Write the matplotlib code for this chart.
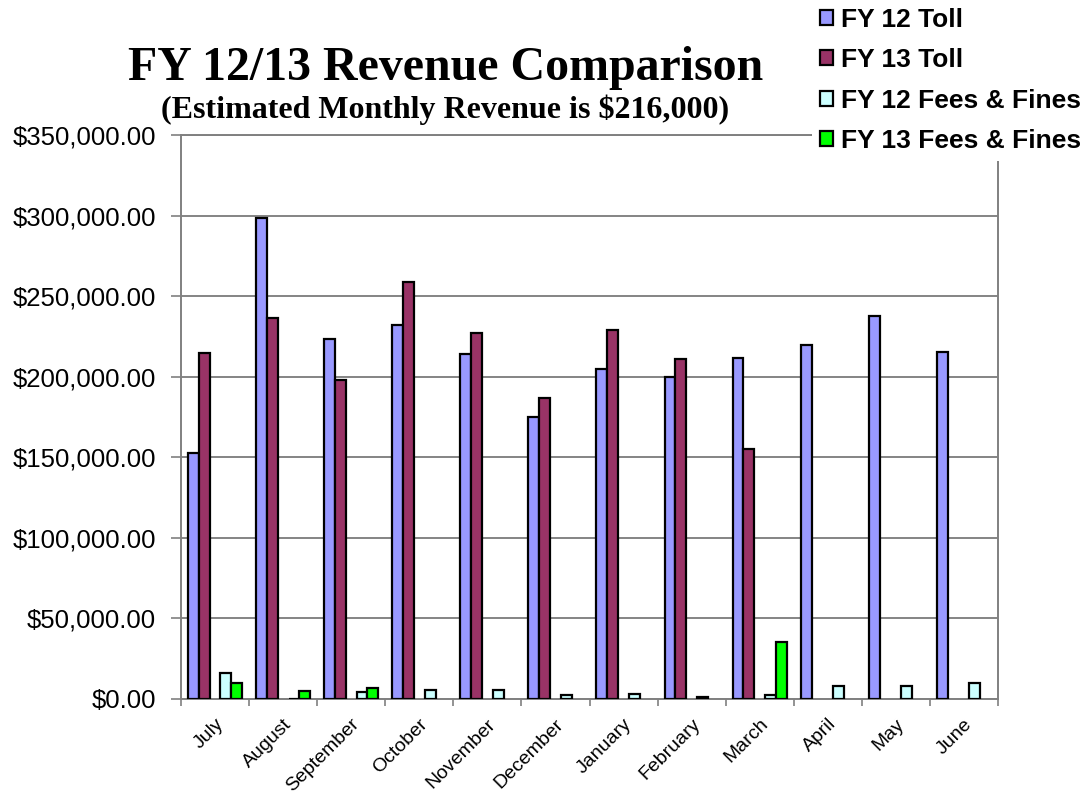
import numpy as np
import matplotlib
matplotlib.use("Agg")
import matplotlib.pyplot as plt
from matplotlib.patches import Patch
from matplotlib.ticker import FuncFormatter, MultipleLocator

# =====================
# Data
# =====================

months = ["July", "August", "September", "October", "November", "December",
          "January", "February", "March", "April", "May", "June"]

fy12_toll = [152600, 298300, 223400, 232100, 213900, 174800,
             205000, 200000, 211800, 219700, 237900, 215100]
fy13_toll = [214500, 236200, 198000, 258600, 227300, 186600,
             229000, 210800, 155100, np.nan, np.nan, np.nan]
fy12_fees = [15900, 300, 4500, 5600, 5600, 2500,
             2900, 1500, 2500, 8100, 8100, 9700]
fy13_fees = [9700, 5000, 6800, np.nan, np.nan, np.nan,
             np.nan, np.nan, 35500, np.nan, np.nan, np.nan]

series_names = ["FY 12 Toll", "FY 13 Toll", "FY 12 Fees & Fines", "FY 13 Fees & Fines"]
series_colors = ["#9999FF", "#993366", "#CCFFFF", "#00FF00"]

# =====================
# Plot
# =====================

fig = plt.figure(figsize=(10.83, 7.96), dpi=100)
ax = fig.add_axes([181 / 1083, 1 - 699 / 796, (998 - 181) / 1083, (699 - 135) / 796])

x = np.arange(len(months))
w = 0.159
slots = [-2, -1, 1, 2]  # middle slot is empty in the original
for vals, s, c in zip([fy12_toll, fy13_toll, fy12_fees, fy13_fees], slots, series_colors):
    ax.bar(x + s * w, vals, width=w, color=c, edgecolor="black", linewidth=1.6, zorder=3)

ax.set_xlim(-0.5, len(months) - 0.5)
ax.set_ylim(0, 350000)
ax.yaxis.set_major_locator(MultipleLocator(50000))
ax.yaxis.set_major_formatter(FuncFormatter(lambda v, p: f"${v:,.2f}"))
ax.grid(axis="y", color="#707070", linewidth=1.2, zorder=0)

for sp in ax.spines.values():
    sp.set_color("#808080")
    sp.set_linewidth(1.4)

ax.tick_params(axis="y", direction="out", length=7, width=1.2, color="#808080",
               pad=11, labelsize=18.5)
for t in ax.get_yticklabels():
    t.set_fontfamily("Liberation Sans")

ax.set_xticks(np.arange(len(months) + 1) - 0.5)
ax.set_xticklabels([])
ax.tick_params(axis="x", which="major", direction="out", length=5, width=1.2, color="#808080")
ax.set_xticks(x, minor=True)
ax.set_xticklabels(months, minor=True, rotation=45, ha="right", va="top",
                   rotation_mode="anchor", fontsize=14, fontfamily="Liberation Sans")
ax.tick_params(axis="x", which="minor", length=0, pad=12)

fig.text(446 / 1083, 1 - 80 / 796, "FY 12/13 Revenue Comparison", ha="center", va="baseline",
         fontsize=34.5, fontweight="bold", fontfamily="Liberation Serif")
fig.text(445 / 1083, 1 - 118 / 796, "(Estimated Monthly Revenue is $216,000)", ha="center",
         va="baseline", fontsize=23, fontweight="bold", fontfamily="Liberation Serif")

handles = [Patch(facecolor=c, edgecolor="black", linewidth=1.6) for c in series_colors]
leg = fig.legend(handles, series_names, loc="upper left", bbox_to_anchor=(812 / 1083, 1.0),
                 frameon=True, facecolor="white", edgecolor="none", framealpha=1,
                 fancybox=False, borderaxespad=0, borderpad=0.3,
                 prop={"family": "Liberation Sans", "weight": "bold", "size": 19},
                 handlelength=0.5, handleheight=0.5, handletextpad=0.3, labelspacing=0.62)

plt.savefig("out.png", dpi=100)
